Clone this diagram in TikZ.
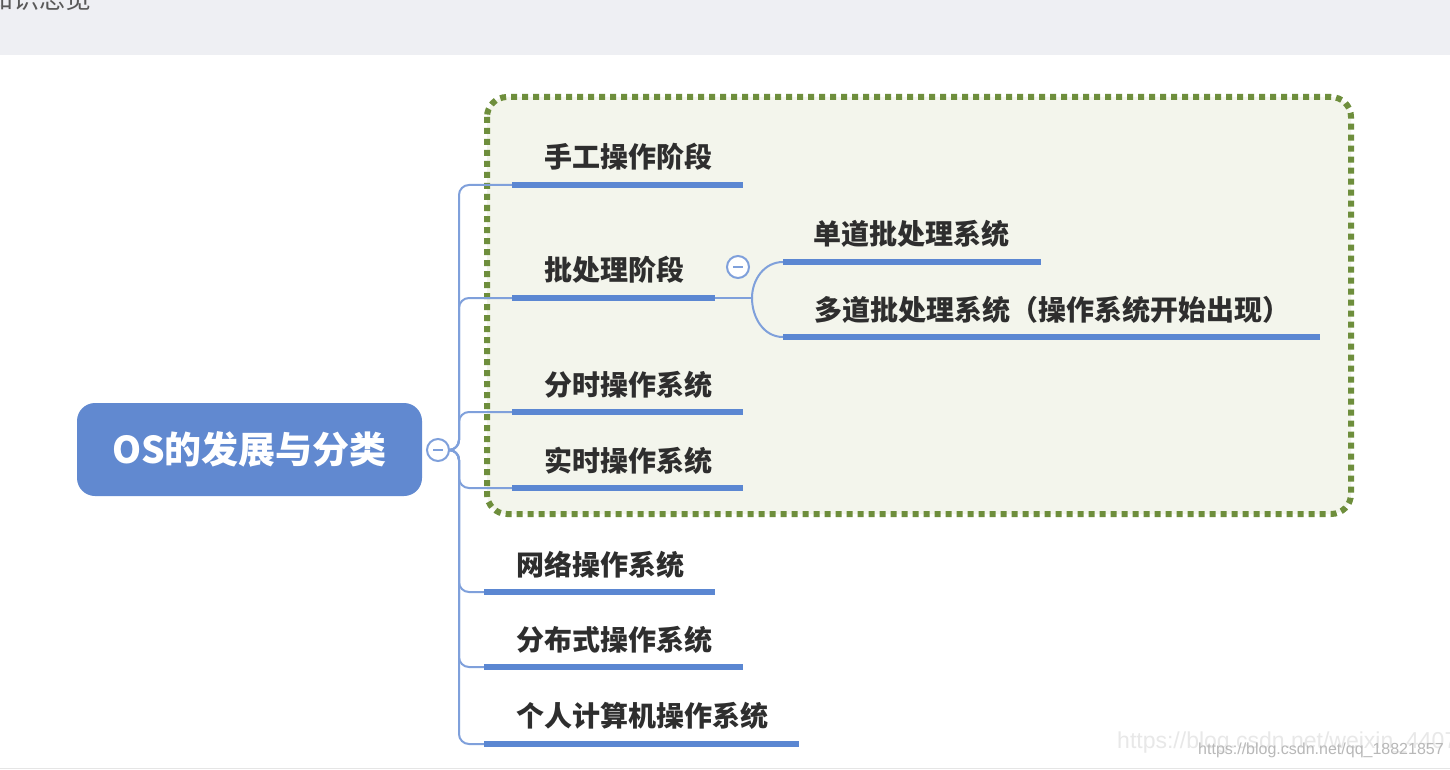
\documentclass[tikz,border=0pt]{standalone}
\usepackage{fontspec}
\newfontfamily\cjk{Noto Sans CJK SC}
\newfontfamily\wm{Liberation Sans}
\definecolor{barbg}{HTML}{EEEFF3}
\definecolor{rootfill}{HTML}{6189D0}
\definecolor{ulblue}{HTML}{5B87D2}
\definecolor{connblue}{HTML}{7FA0DB}
\definecolor{boxfill}{HTML}{F3F5EC}
\definecolor{boxline}{HTML}{6E8E3C}
\definecolor{txt}{HTML}{2E2E2E}
\tikzset{
  conn/.style={draw=connblue, line width=2pt, rounded corners=10pt},
  ul/.style={draw=ulblue, line width=6pt},
  childtext/.style={font=\cjk\bfseries\fontsize{28}{28}\selectfont, text=txt, inner sep=0pt},
  collapse/.style={circle, draw=connblue, line width=2pt, fill=white, minimum size=22pt, inner sep=0pt},
}
\begin{document}
\begin{tikzpicture}[x=1pt,y=-1pt]
\useasboundingbox (0,0) rectangle (1450,770);
\clip (0,0) rectangle (1450,770);
\fill[white] (0,0) rectangle (1450,770);
% top bar
\fill[barbg] (0,0) rectangle (1450,55);
\node[anchor=south west, inner sep=0pt, text=black!65, font=\cjk\fontsize{26}{26}\selectfont] (hdr) at (-13,11) {知识总览};
% bottom rule
\draw[black!10, line width=1pt] (0,768) -- (1450,768);
% dotted group box
\draw[boxline, fill=boxfill, line width=6pt, dash pattern=on 6pt off 5pt, rounded corners=20pt] (487,97) rectangle (1351,514);
% root
\node[fill=rootfill, rounded corners=18pt, minimum width=345pt, minimum height=93pt, text=white, font=\cjk\bfseries\fontsize{37}{37}\selectfont] (root) at (249.5,449.5) {OS的发展与分类};
\node[collapse] (c0) at (438,450) {};
\draw[connblue, line width=2pt] ([xshift=-5pt]c0.center) -- ([xshift=5pt]c0.center);
\coordinate (hub) at (459,450);
% children underline coordinates
\coordinate (a1) at (512,185); \coordinate (b1) at (743,185);
\coordinate (a2) at (512,298); \coordinate (b2) at (715,298);
\coordinate (a3) at (512,412); \coordinate (b3) at (743,412);
\coordinate (a4) at (512,488); \coordinate (b4) at (743,488);
\coordinate (a5) at (484,592); \coordinate (b5) at (715,592);
\coordinate (a6) at (484,667); \coordinate (b6) at (743,667);
\coordinate (a7) at (484,744); \coordinate (b7) at (799,744);
% connectors root -> children
\foreach \i in {1,...,7} {\draw[conn] (c0.east) -- (hub) |- (a\i);}
% underlines
\foreach \i in {1,...,7} {\draw[ul] (a\i) -- (b\i);}
% child texts
\node[childtext] (t1) at (628,157) {手工操作阶段};
\node[childtext] (t2) at (614,270) {批处理阶段};
\node[childtext] (t3) at (628,385) {分时操作系统};
\node[childtext] (t4) at (628,461) {实时操作系统};
\node[childtext] (t5) at (600,565) {网络操作系统};
\node[childtext] (t6) at (614,640) {分布式操作系统};
\node[childtext] (t7) at (642,716) {个人计算机操作系统};
% sub-branches of 批处理阶段
\node[collapse] (c2) at (738,267) {};
\draw[connblue, line width=2pt] ([xshift=-5pt]c2.center) -- ([xshift=5pt]c2.center);
\coordinate (j2) at (752,298);
\coordinate (s1a) at (783,262); \coordinate (s1b) at (1041,262);
\coordinate (s2a) at (783,337); \coordinate (s2b) at (1320,337);
\draw[connblue, line width=2pt] (b2) -- (j2);
\draw[connblue, line width=2pt] (j2) to[out=90,in=180] (s1a);
\draw[connblue, line width=2pt] (j2) to[out=-90,in=180] (s2a);
\draw[ul] (s1a) -- (s1b);
\draw[ul] (s2a) -- (s2b);
\node[childtext] (s1) at (911,234) {单道批处理系统};
\node[childtext, anchor=west] (s2) at (814,310) {多道批处理系统（操作系统开始出现）};
% watermarks
\node[anchor=west, inner sep=0pt, text=black!9, font=\wm\fontsize{23}{23}\selectfont] (wm1) at (1117,743) {https://blog.csdn.net/weixin\_4407};
\node[anchor=west, inner sep=0pt, text=black!28, font=\wm\fontsize{16}{16}\selectfont] (wm2) at (1198,750) {https://blog.csdn.net/qq\_18821857};
\end{tikzpicture}
\end{document}
